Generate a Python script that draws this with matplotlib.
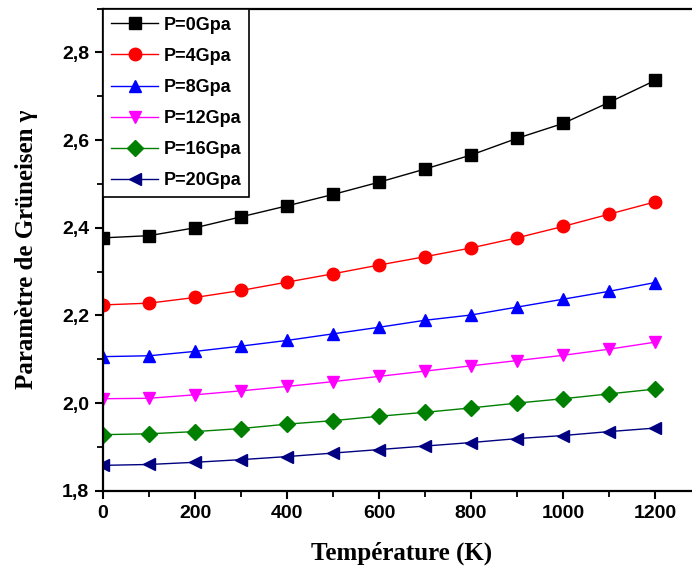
import matplotlib
matplotlib.use("Agg")
import matplotlib.pyplot as plt
from matplotlib.ticker import MultipleLocator, FuncFormatter

T = [0, 100, 200, 300, 400, 500, 600, 700, 800, 900, 1000, 1100, 1200]

g_p0 = [2.377, 2.382, 2.400, 2.425, 2.450, 2.476, 2.504, 2.534, 2.566, 2.604, 2.638, 2.686, 2.736]
g_p4 = [2.224, 2.228, 2.241, 2.257, 2.276, 2.295, 2.315, 2.334, 2.354, 2.377, 2.403, 2.431, 2.459]
g_p8 = [2.106, 2.108, 2.118, 2.130, 2.143, 2.158, 2.173, 2.189, 2.201, 2.219, 2.237, 2.255, 2.275]
g_p12 = [2.010, 2.011, 2.019, 2.028, 2.038, 2.049, 2.061, 2.073, 2.085, 2.097, 2.109, 2.123, 2.139]
g_p16 = [1.928, 1.930, 1.935, 1.942, 1.952, 1.960, 1.970, 1.979, 1.989, 2.000, 2.010, 2.021, 2.032]
g_p20 = [1.858, 1.860, 1.865, 1.871, 1.878, 1.886, 1.894, 1.902, 1.910, 1.919, 1.926, 1.935, 1.943]

labels = ["P=0Gpa", "P=4Gpa", "P=8Gpa", "P=12Gpa", "P=16Gpa", "P=20Gpa"]
series = [g_p0, g_p4, g_p8, g_p12, g_p16, g_p20]
colors = ["black", "red", "blue", "magenta", "green", "navy"]
markers = ["s", "o", "^", "v", "D", "<"]
msizes = [8, 9, 9, 9, 8, 9]

fig = plt.figure(figsize=(6.92, 5.74), dpi=100)
# right edge of the frame runs past the figure border
ax = fig.add_axes([0.149, 0.145, 0.864, 0.84])

for y, lab, c, m, ms in zip(series, labels, colors, markers, msizes):
    ax.plot(T, y, color=c, marker=m, markersize=ms, linewidth=1, label=lab)

ax.set_xlim(0, 1300)
ax.set_ylim(1.8, 2.9)
ax.xaxis.set_major_locator(MultipleLocator(200))
ax.xaxis.set_minor_locator(MultipleLocator(100))
ax.yaxis.set_major_locator(MultipleLocator(0.2))
ax.yaxis.set_minor_locator(MultipleLocator(0.1))
ax.yaxis.set_major_formatter(FuncFormatter(lambda v, p: f"{v:.1f}".replace(".", ",")))

for s in ax.spines.values():
    s.set_linewidth(1.6)
ax.tick_params(which="major", direction="out", length=6, width=1.5, labelsize=14, pad=4)
ax.tick_params(which="minor", direction="out", length=4, width=1.3)
for t in ax.get_xticklabels() + ax.get_yticklabels():
    t.set_family("Liberation Sans")
    t.set_fontweight("bold")

ax.set_xlabel("Température (K)", family="Liberation Serif", fontweight="bold",
              fontsize=18, labelpad=14)
ax.set_ylabel("Paramètre de Grüneisen γ", family="Liberation Serif", fontweight="bold",
              fontsize=18, labelpad=17)

leg = ax.legend(loc="upper left", bbox_to_anchor=(0, 1), borderaxespad=0,
                prop={"family": "Liberation Sans", "weight": "bold", "size": 13},
                fancybox=False, edgecolor="black", framealpha=1,
                handlelength=2.6, labelspacing=0.78,
                borderpad=0.45, handletextpad=0.3)
leg.get_frame().set_linewidth(1.2)

fig.savefig("out.png", dpi=100)
